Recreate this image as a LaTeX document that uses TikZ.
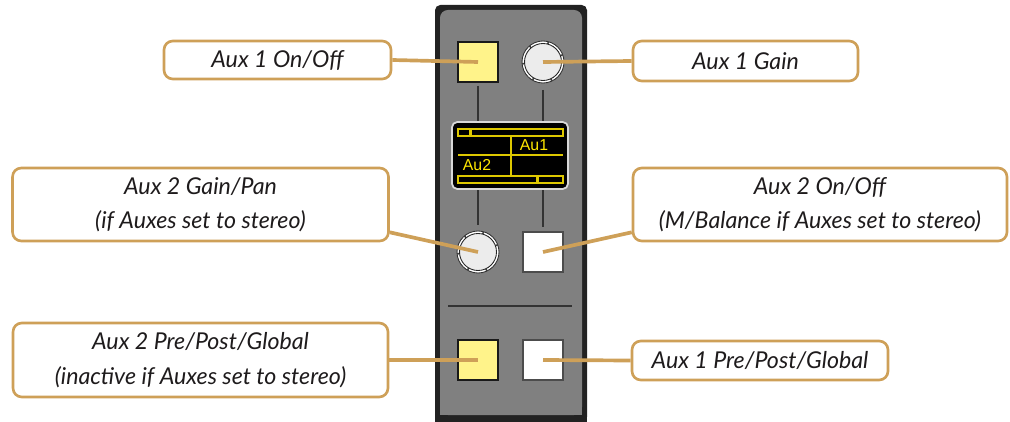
\documentclass[tikz,border=0pt]{standalone}
\usepackage{fontspec}
\setmainfont{Lato}
\newfontfamily\lcdfont{Liberation Sans}
\usetikzlibrary{calc}
\definecolor{calltan}{RGB}{206,160,88}
\definecolor{calltext}{RGB}{30,27,28}
\definecolor{stripgrey}{RGB}{128,128,128}
\definecolor{stripedge}{RGB}{34,34,34}
\definecolor{keyyellow}{RGB}{255,243,138}
\definecolor{knobgrey}{RGB}{236,236,236}
\definecolor{lcdyellow}{RGB}{222,200,0}
\definecolor{lcdtext}{RGB}{255,232,0}
\tikzset{
  callbox/.style={draw=calltan,line width=1.5pt,rounded corners=5pt,fill=white,
                  text=calltext,align=center,inner sep=0pt,
                  font=\fontsize{13.2}{19.6}\selectfont\itshape},
  callwire/.style={draw=calltan,line width=2.1pt},
  keybtn/.style={rectangle,minimum size=0.8cm,inner sep=0pt,line width=0.6pt},
  keyon/.style={keybtn,fill=keyyellow,draw=black!90},
  keyoff/.style={keybtn,fill=white,draw=black!70},
  knobcap/.style={circle,minimum size=0.84cm,inner sep=0pt,fill=white,
                  draw=black!80,line width=0.5pt},
  lcdline/.style={draw=lcdyellow,line width=0.6pt},
  lcdlabel/.style={text=lcdtext,inner sep=0pt,font=\lcdfont\fontsize{9}{9}\selectfont},
  stripline/.style={draw=black!80,line width=0.6pt}
}

\begin{document}
\begin{tikzpicture}[x=0.02cm,y=-0.02cm]
  \useasboundingbox (0,0) rectangle (1010,422);

  % channel strip
  \fill[stripedge,rounded corners=3pt] (435,5) rectangle (587,422);
  \fill[stripedge] (435,300) rectangle (587,422);
  \fill[stripgrey,rounded corners=4.5pt] (440,10) rectangle (582,415);
  \fill[stripgrey] (440,300) rectangle (582,415);

  \draw[stripline] (478,86) -- (478,122);
  \draw[stripline] (543,90) -- (543,122);
  \draw[stripline] (478,189) -- (478,225);
  \draw[stripline] (543,189) -- (543,227);
  \draw[stripline] (448,306) -- (572,306);

  % controls
  \node[keyon] (auxone) at (478,62) {};
  \node[knobcap] (gainone) at (543,62) {};
  \node[knobcap] (gaintwo) at (478,252) {};
  \node[keyoff] (auxtwo) at (543,252) {};
  \node[keyon] (pretwo) at (478,360) {};
  \node[keyoff] (preone) at (543,360) {};

  \foreach \k in {gainone,gaintwo} {
    \foreach \a in {20,75,130,185,240,295} {
      \draw[black!75,line width=0.9pt] ($(\k.center)+(\a:0.36cm)$) -- ($(\k.center)+(\a:0.42cm)$);
    }
    \fill[knobgrey] (\k.center) circle (0.37cm);
    \draw[black!85,line width=0.5pt] (\k.center) circle (0.37cm);
  }

  % display
  \node[fill=black,draw=black!15,line width=1pt,rounded corners=3pt,
        minimum width=2.32cm,minimum height=1.34cm] (lcd) at (510,155.5) {};
  \draw[lcdline] (458,129) rectangle (563,136);
  \fill[lcdyellow] (469,129) rectangle (472,136);
  \draw[lcdline] (458,155) -- (563,155);
  \draw[lcdline] (511,136) -- (511,176);
  \draw[lcdline] (458,176) rectangle (563,183);
  \fill[lcdyellow] (536,176) rectangle (539,183);
  \node[lcdlabel] (lcdone) at (534,145.5) {Au1};
  \node[lcdlabel] (lcdtwo) at (477,165.5) {Au2};

  % callouts
  \node[callbox,minimum width=4.54cm,minimum height=0.76cm] (lblauxone) at (277.5,60)
    {Aux 1 On/Off};
  \node[callbox,minimum width=4.5cm,minimum height=0.8cm] (lblgainone) at (745.5,61)
    {Aux 1 Gain};
  \node[callbox,minimum width=7.52cm,minimum height=1.46cm] (lblgaintwo) at (200.5,204.5)
    {Aux 2 Gain/Pan\\(if Auxes set to stereo)};
  \node[callbox,minimum width=7.48cm,minimum height=1.46cm] (lblauxtwo) at (820,204.5)
    {Aux 2 On/Off\\(M/Balance if Auxes set to stereo)};
  \node[callbox,minimum width=7.5cm,minimum height=1.48cm] (lblpretwo) at (200.5,360)
    {Aux 2 Pre/Post/Global\\(inactive if Auxes set to stereo)};
  \node[callbox,minimum width=5.12cm,minimum height=0.78cm] (lblpreone) at (760,360.5)
    {Aux 1 Pre/Post/Global};

  \draw[callwire] (lblauxone.east) -- (auxone.center);
  \draw[callwire] (lblgainone.west) -- (gainone.center);
  \draw[callwire] ($(lblgaintwo.south east)+(0,-10)$) -- (gaintwo.center);
  \draw[callwire] ($(lblauxtwo.south west)+(0,-10)$) -- (auxtwo.center);
  \draw[callwire] (lblpretwo.east) -- (pretwo.center);
  \draw[callwire] (lblpreone.west) -- (preone.center);
\end{tikzpicture}
\end{document}
